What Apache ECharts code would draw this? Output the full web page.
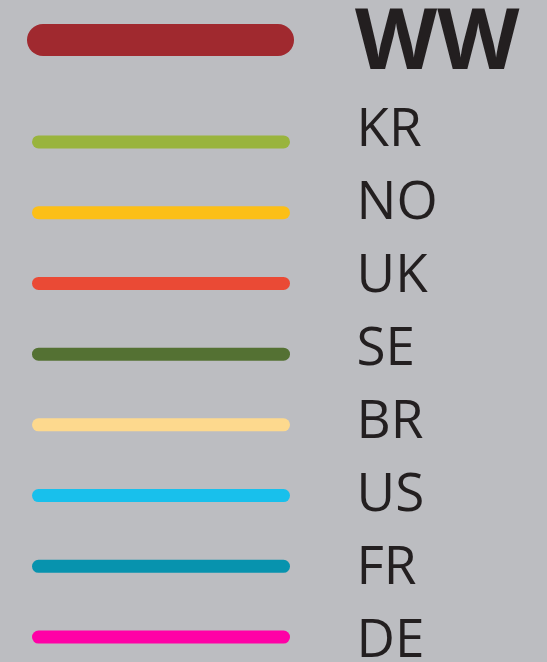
<!DOCTYPE html>
<html>
<head>
<meta charset="utf-8">
<script src="https://cdn.jsdelivr.net/npm/echarts@6/dist/echarts.min.js"></script>
<style>
html,body{margin:0;padding:0;background:#bcbdc1;}
#chart{width:547px;height:662px;}
</style>
</head>
<body>
<div id="chart"></div>
<script>
// Legend entries
const headerNames = ['WW'];
const countryNames = ['KR', 'NO', 'UK', 'SE', 'BR', 'US', 'FR', 'DE'];
const lineSpan = [0, 1];
// styles
const headerColors = ['#a0292f'];
const countryColors = ['#99b43d', '#fcbf17', '#ea4a35', '#547133', '#fdd98e', '#18c0ec', '#0793ae', '#ff00a6'];

const chart = echarts.init(document.getElementById('chart'), null, {renderer: 'canvas'});

const hiddenX = (gi) => ({type: 'value', gridIndex: gi, min: lineSpan[0], max: lineSpan[1], show: false});
const catY = (gi, data, showLabel, labelOpts) => ({
  type: 'category', gridIndex: gi, data: data, inverse: true, position: 'right',
  axisLine: {show: false}, axisTick: {show: false}, splitLine: {show: false},
  axisLabel: Object.assign({show: showLabel, align: 'left', color: '#231f20', fontFamily: '"Open Sans", sans-serif'}, labelOpts || {})
});

const series = [];
headerNames.forEach((n, i) => {
  series.push({
    type: 'line', xAxisIndex: 0, yAxisIndex: 0, symbol: 'none', silent: true,
    data: lineSpan.map(x => [x, n]),
    lineStyle: {color: headerColors[i], width: 32, cap: 'round'}
  });
});
countryNames.forEach((n, i) => {
  series.push({
    type: 'line', xAxisIndex: 1, yAxisIndex: 1, symbol: 'none', silent: true,
    data: lineSpan.map(x => [x, n]),
    lineStyle: {color: countryColors[i], width: 13, cap: 'round'}
  });
});

const gridBase = {outerBoundsMode: 'none', containLabel: false};
chart.setOption({
  backgroundColor: '#bcbdc1',
  animation: false,
  grid: [
    Object.assign({left: 43, width: 235, top: 0, height: 80}, gridBase),
    Object.assign({left: 38.5, width: 245, top: 106.6, height: 565.8}, gridBase),
    Object.assign({left: 38.5, width: 245, top: 94.5, height: 584}, gridBase),
    Object.assign({left: 43, width: 235, top: 5, height: 80}, gridBase)
  ],
  xAxis: [hiddenX(0), hiddenX(1), hiddenX(2), hiddenX(3)],
  yAxis: [
    catY(0, headerNames, false),
    catY(1, countryNames, false),
    catY(2, countryNames, true, {fontSize: 53, margin: 73}),
    catY(3, headerNames, true, {fontSize: 85, fontWeight: 'bold', margin: 77})
  ],
  series: series
});
</script>
</body>
</html>
